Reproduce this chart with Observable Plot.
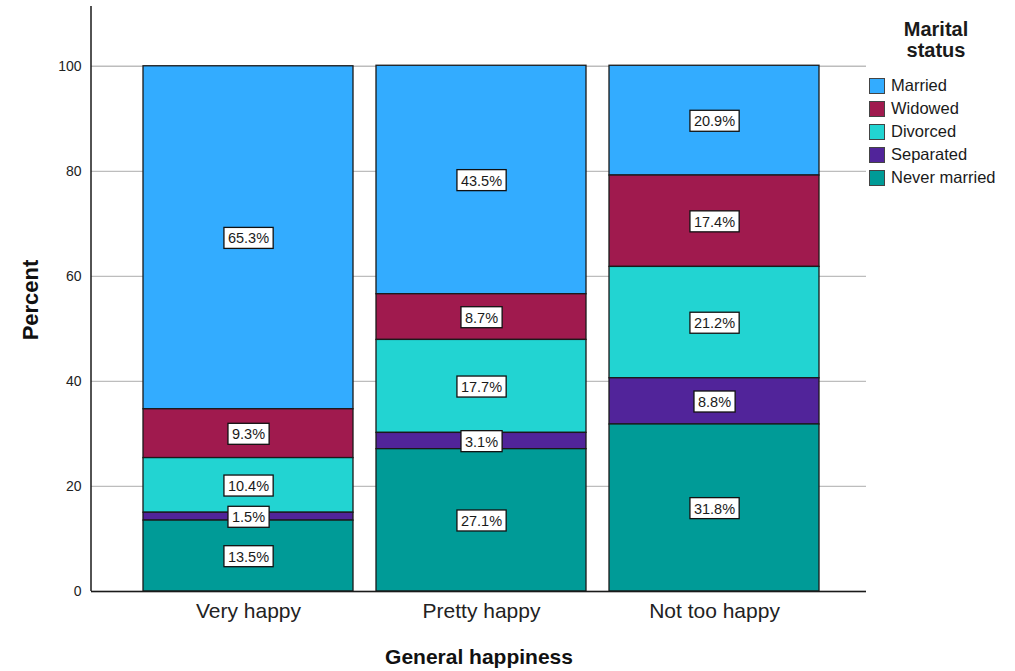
<!DOCTYPE html>
<html><head><meta charset="utf-8">
<script src="https://cdn.jsdelivr.net/npm/d3@7"></script>
<script src="https://cdn.jsdelivr.net/npm/@observablehq/plot@0.6"></script>
<style>
body{margin:0;background:#fff;font-family:"Liberation Sans",Arial,sans-serif;}
#wrap{position:relative;width:1015px;height:671px;overflow:hidden;}
#legend{position:absolute;left:866px;top:19px;width:140px;color:#1a1a1a;}
#legend .title{font-weight:bold;font-size:20px;line-height:21px;text-align:center;margin-bottom:13px;}
#legend .item{display:flex;align-items:center;height:23px;font-size:16.5px;}
#legend .sw{width:14px;height:14px;border:1px solid #444;margin-left:3px;margin-right:6px;flex:none;}
</style></head><body><div id="wrap"></div>
<script>
const happiness = ["Very happy", "Pretty happy", "Not too happy"];
const statuses = ["Married", "Widowed", "Divorced", "Separated", "Never married"];
const statusColors = ["#33acff", "#a01a4e", "#22d4d2", "#51249a", "#009b97"];
const married = [65.3, 43.5, 20.9];
const widowed = [9.3, 8.7, 17.4];
const divorced = [10.4, 17.7, 21.2];
const separated = [1.5, 3.1, 8.8];
const neverMarried = [13.5, 27.1, 31.8];
const yTicks = [0, 20, 40, 60, 80, 100];
const xTitle = "General happiness";
const yTitle = "Percent";
const legendTitle = ["Marital", "status"];

const series = {"Married": married, "Widowed": widowed, "Divorced": divorced, "Separated": separated, "Never married": neverMarried};
const data = [];
happiness.forEach((h, i) => statuses.forEach(s => data.push({happiness: h, status: s, value: series[s][i]})));
const stackOrder = statuses.slice().reverse();

const plot = Plot.plot({
  width: 1015, height: 671,
  marginLeft: 91, marginRight: 149, marginTop: 8, marginBottom: 80,
  style: {fontFamily: "Liberation Sans, Arial, sans-serif", color: "#1a1a1a", background: "#fff"},
  x: {domain: happiness, paddingInner: 0.1, paddingOuter: 0.212, align: 0.52, label: null},
  y: {domain: [0, 111], label: null},
  color: {domain: statuses, range: statusColors},
  marks: [
    Plot.ruleY(yTicks, {stroke: "#bdbdbd", strokeWidth: 1.3}),
    Plot.barY(data, {x: "happiness", y: "value", fill: "status", order: stackOrder, stroke: "#1a1a1a", strokeWidth: 1.3}),
    Plot.ruleY([0], {stroke: "#1a1a1a", strokeWidth: 1.5}),
    Plot.axisY({ticks: yTicks, tickSize: 0, tickPadding: 10, fontSize: 14, fill: "#222", label: null}),
    Plot.axisX({tickSize: 0, tickPadding: 12, fontSize: 21, fill: "#222", label: null}),
    Plot.text(data, Plot.stackY({x: "happiness", y: "value", z: "status", order: stackOrder,
      text: d => d.value.toFixed(1) + "%", fontSize: 14.5, fill: "#1a1a1a", dy: 1})),
    Plot.text([xTitle], {frameAnchor: "bottom", dy: 72, fontSize: 21, fontWeight: "bold", fill: "#111"}),
    Plot.text([yTitle], {frameAnchor: "left", textAnchor: "middle", dx: -61, rotate: -90, fontSize: 22, fontWeight: "bold", fill: "#111"})
  ]
});
const wrap = document.getElementById("wrap");
wrap.appendChild(plot);

// left axis line using the plot's own scales
const xs = plot.scale("x"), ys = plot.scale("y");
const svg = d3.select(plot);
svg.append("line")
  .attr("x1", xs.range[0]).attr("x2", xs.range[0])
  .attr("y1", ys.range[0]).attr("y2", ys.range[1] - 2)
  .attr("stroke", "#1a1a1a").attr("stroke-width", 1.5);

// white boxes behind segment labels
svg.selectAll('g[aria-label="text"]').each(function() {
  const g = d3.select(this);
  const texts = g.selectAll("text").nodes().filter(t => /%$/.test(t.textContent));
  texts.forEach(t => {
    const b = t.getBBox();
    const tr = t.getAttribute("transform");
    const r = document.createElementNS("http://www.w3.org/2000/svg", "rect");
    r.setAttribute("x", b.x - 4); r.setAttribute("y", b.y - 3);
    r.setAttribute("width", b.width + 8); r.setAttribute("height", b.height + 5);
    r.setAttribute("fill", "#fff"); r.setAttribute("stroke", "#111"); r.setAttribute("stroke-width", 1.3);
    if (tr) r.setAttribute("transform", tr);
    t.parentNode.insertBefore(r, t);
  });
});

// legend
const leg = d3.select(wrap).append("div").attr("id", "legend");
leg.append("div").attr("class", "title").html(legendTitle.join("<br>"));
statuses.forEach((s, i) => {
  const it = leg.append("div").attr("class", "item");
  it.append("div").attr("class", "sw").style("background", statusColors[i]);
  it.append("span").text(s);
});
</script></body></html>
